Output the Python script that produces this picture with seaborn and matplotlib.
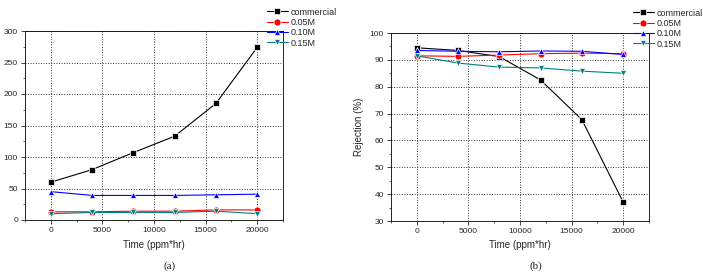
import pandas as pd
import seaborn as sns
import matplotlib
matplotlib.use('Agg')
import matplotlib.pyplot as plt
from matplotlib.ticker import MultipleLocator

# Data
times = [0, 4000, 8000, 12000, 16000, 20000]
series = ['commercial', '0.05M', '0.10M', '0.15M']

flux_commercial = [60, 80, 107, 133, 185, 274]
flux_005 = [13, 13, 14, 14, 16, 16]
flux_010 = [45, 39, 39, 39, 40, 41]
flux_015 = [10, 12, 12, 12, 14, 10]

rej_commercial = [94.5, 93.5, 91.2, 82.5, 67.7, 37]
rej_005 = [91.5, 91.3, 91.8, 92.3, 92.5, 92.3]
rej_010 = [93.5, 93.2, 93.0, 93.3, 93.2, 92.0]
rej_015 = [91.5, 88.8, 87.3, 87.0, 85.8, 85.0]

colors = {'commercial': 'black', '0.05M': 'red', '0.10M': 'blue', '0.15M': '#008080'}
markers = {'commercial': 's', '0.05M': 'o', '0.10M': '^', '0.15M': 'v'}


def to_long(vals):
    rows = []
    for name, v in zip(series, vals):
        for t, y in zip(times, v):
            rows.append({'Time': t, 'Value': y, 'Series': name})
    return pd.DataFrame(rows)


flux_df = to_long([flux_commercial, flux_005, flux_010, flux_015])
rej_df = to_long([rej_commercial, rej_005, rej_010, rej_015])

sns.set_style('white')
plt.rcParams['font.family'] = ['Liberation Sans', 'DejaVu Sans']

fig = plt.figure(figsize=(7.03, 2.73), dpi=100)
ax1 = fig.add_axes([25 / 703, 1 - 220 / 273, 258 / 703, 189 / 273])
ax2 = fig.add_axes([391 / 703, 1 - 221 / 273, 258 / 703, 188 / 273])


def style_axis(ax, df, ylim, ymajor, yminor, legend_anchor):
    sns.lineplot(data=df, x='Time', y='Value', hue='Series', style='Series',
                 palette=colors, markers=markers, dashes=False, ax=ax,
                 linewidth=0.8, markersize=5, markeredgewidth=0.5,
                 legend=True)
    ax.set_xlim(-2500, 22500)
    ax.set_ylim(*ylim)
    ax.xaxis.set_major_locator(MultipleLocator(5000))
    ax.xaxis.set_minor_locator(MultipleLocator(2500))
    ax.yaxis.set_major_locator(MultipleLocator(ymajor))
    ax.yaxis.set_minor_locator(MultipleLocator(yminor))
    ax.grid(True, which='major', color='#333333', linestyle=':', linewidth=0.7)
    ax.tick_params(axis='both', which='major', labelsize=6, length=3, width=0.6,
                   direction='out', bottom=True, left=True, pad=2)
    ax.tick_params(axis='both', which='minor', length=1.5, width=0.5,
                   direction='out', bottom=True, left=True)
    for sp in ax.spines.values():
        sp.set_linewidth(0.6)
        sp.set_color('black')
    ax.set_xlabel('Time (ppm*hr)', fontsize=7, labelpad=4)
    leg = ax.legend(loc='upper left', bbox_to_anchor=legend_anchor,
                    bbox_transform=fig.transFigure, frameon=False,
                    fontsize=6.5, handlelength=2.4, handletextpad=0.3,
                    labelspacing=0.15, borderpad=0)
    return leg


style_axis(ax1, flux_df, (0, 300), 50, 25, (262 / 703, 1 - 3 / 273))
ax1.set_ylabel('')

style_axis(ax2, rej_df, (30, 100), 10, 5, (628 / 703, 1 - 4 / 273))
ax2.set_ylabel('Rejection (%)', fontsize=7, labelpad=4)

fig.text(170 / 703, 1 - 266 / 273, '(a)', ha='center', va='center',
         fontsize=8, family='Liberation Serif')
fig.text(536 / 703, 1 - 266 / 273, '(b)', ha='center', va='center',
         fontsize=8, family='Liberation Serif')

fig.savefig('out.png', dpi=100)
